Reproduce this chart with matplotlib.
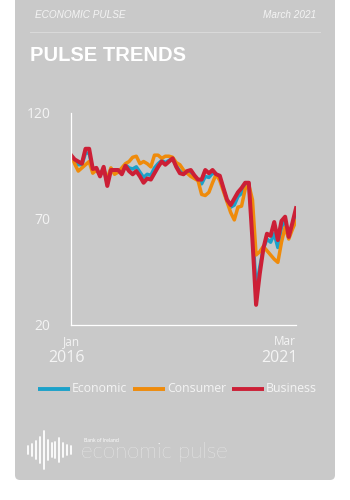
import matplotlib
matplotlib.use("Agg")
import matplotlib.pyplot as plt
from matplotlib.patches import FancyBboxPatch

# monthly index readings, Jan 2016 .. Mar 2021
economic = [100, 97.5, 95.5, 95.5, 101, 101, 93, 93.5, 90.5, 94,
            86.5, 93.5, 92.5, 92.5, 92, 95.5, 94, 93.5, 94.5, 92,
            89.5, 91, 90.5, 94, 96, 97.5, 96.5, 97.5, 98.5, 95,
            92.5, 91.5, 92, 92, 89.5, 88.3, 86.5, 90, 89.5, 91.5,
            91, 89.5, 84, 78.5, 75.5, 76.5, 80.5, 82, 86, 86.5,
            66, 37, 47, 56, 60.5, 59, 63, 56.5, 66, 69.5,
            61, 67, 73.5]
consumer = [100, 96, 92.5, 94, 95.5, 97, 91.5, 93, 91, 93,
            89, 94, 91, 92, 94, 96, 97, 99, 99.5, 96,
            97, 96, 94.5, 100, 100, 98.5, 99.5, 99.5, 99, 96.5,
            95.5, 93, 91.5, 90, 89, 88, 81.5, 81, 82.5, 87,
            91, 88, 83, 78, 73, 69.5, 75.5, 76, 84, 86,
            79, 53, 54.5, 57, 55, 53, 51, 49.5, 59, 66,
            60.5, 65, 69]
business = [100, 98, 97, 96, 103, 103, 93.5, 94, 90, 94.5,
            85.5, 93, 93, 93, 91, 95, 92.5, 91, 92.5, 90,
            87, 89, 88.5, 91.5, 94.5, 97, 95.5, 97, 98.5, 94.5,
            91.5, 91, 92.5, 93, 90.5, 88.5, 88.5, 93, 91.5, 93,
            91, 90.3, 84.5, 79, 76.5, 79.5, 82.5, 84.5, 87, 87,
            60, 29.5, 44, 56, 63, 62, 68.5, 60, 69, 71,
            61.5, 68, 75]
months = list(range(len(business)))

series_names = ["Economic", "Consumer", "Business"]
series_colors = ["#1ba1c9", "#ef8b0b", "#cc1f36"]

y_ticks = [20, 70, 120]

# logo waveform bars: x position and half height (pixels)
wave_x = [27.5, 31.5, 35.5, 39.5, 43.5, 47.5, 51.5, 55, 58.5, 62.5, 66.5, 71]
wave_h = [4, 6, 9, 13, 19, 10, 7, 8, 12, 7, 5, 4]

card = "#c9c9c9"
txt = "#f4f4f4"

fig = plt.figure(figsize=(3.5, 5), dpi=100)
fig.patch.set_facecolor("white")

# background layer in pixel coordinates
bg = fig.add_axes([0, 0, 1, 1])
bg.set_xlim(0, 350)
bg.set_ylim(500, 0)
bg.axis("off")
bg.add_patch(FancyBboxPatch((15, -10), 320, 490, boxstyle="round,pad=0,rounding_size=5",
                            facecolor=card, edgecolor="none"))

bg.text(35, 15, "ECONOMIC PULSE", fontsize=7.2, style="italic", color=txt,
        family="Liberation Sans", va="center", ha="left")
bg.text(316, 15, "March 2021", fontsize=7.2, style="italic", color=txt,
        family="Liberation Sans", va="center", ha="right")
bg.plot([30, 320], [31.5, 31.5], color="#dadada", lw=0.7)
bg.text(30, 55.5, "PULSE TRENDS", fontsize=14.5, fontweight="bold", color="white",
        family="Liberation Sans", va="center", ha="left")

# legend
leg_lines = [(38, 70), (133, 165), (232, 264)]
leg_text_x = [72, 167, 266]
for (x0, x1), tx, name, col in zip(leg_lines, leg_text_x, series_names, series_colors):
    bg.plot([x0, x1], [389, 389], color=col, lw=2.8, solid_capstyle="butt")
    bg.text(tx, 389, name, fontsize=8.8, color=txt, family="Open Sans",
            va="center", ha="left")

# logo
for x, h in zip(wave_x, wave_h):
    bg.plot([x, x], [450 - h, 450 + h], color="white", lw=1.3, solid_capstyle="round")
bg.text(84, 441, "Bank of Ireland", fontsize=3.6, color="white", family="Open Sans",
        va="center", ha="left")
bg.text(81, 452, "economic pulse", fontsize=16, color="white", family="Lato",
        fontweight="light", va="center", ha="left")

# chart
ax = fig.add_axes([71 / 350, 1 - 325 / 500, 225 / 350, (325 - 112.7) / 500])
ax.patch.set_alpha(0)
for vals, col, lw in zip([economic, consumer, business], series_colors, [2.5, 2.5, 2.9]):
    ax.plot(months, vals, color=col, lw=lw)
ax.set_xlim(0, len(months) - 1)
ax.set_ylim(20, 120)
for side in ["top", "right"]:
    ax.spines[side].set_visible(False)
for side in ["left", "bottom"]:
    ax.spines[side].set_color("white")
    ax.spines[side].set_linewidth(0.9)
ax.set_yticks(y_ticks)
ax.set_yticklabels([str(v) for v in y_ticks], family="Open Sans", fontsize=10, color=txt)
ax.tick_params(axis="y", length=0, pad=15)
ax.set_xticks([])

ax.text(0, -0.078, "Jan", transform=ax.transAxes, fontsize=8.5, color=txt,
        family="Open Sans", ha="center", va="center")
ax.text(-0.02, -0.155, "2016", transform=ax.transAxes, fontsize=11.5, color=txt,
        family="Open Sans", ha="center", va="center")
ax.text(1.0, -0.078, "Mar", transform=ax.transAxes, fontsize=8.5, color=txt,
        family="Open Sans", ha="right", va="center")
ax.text(1.01, -0.155, "2021", transform=ax.transAxes, fontsize=11.5, color=txt,
        family="Open Sans", ha="right", va="center")

fig.savefig("out.png", dpi=100)
